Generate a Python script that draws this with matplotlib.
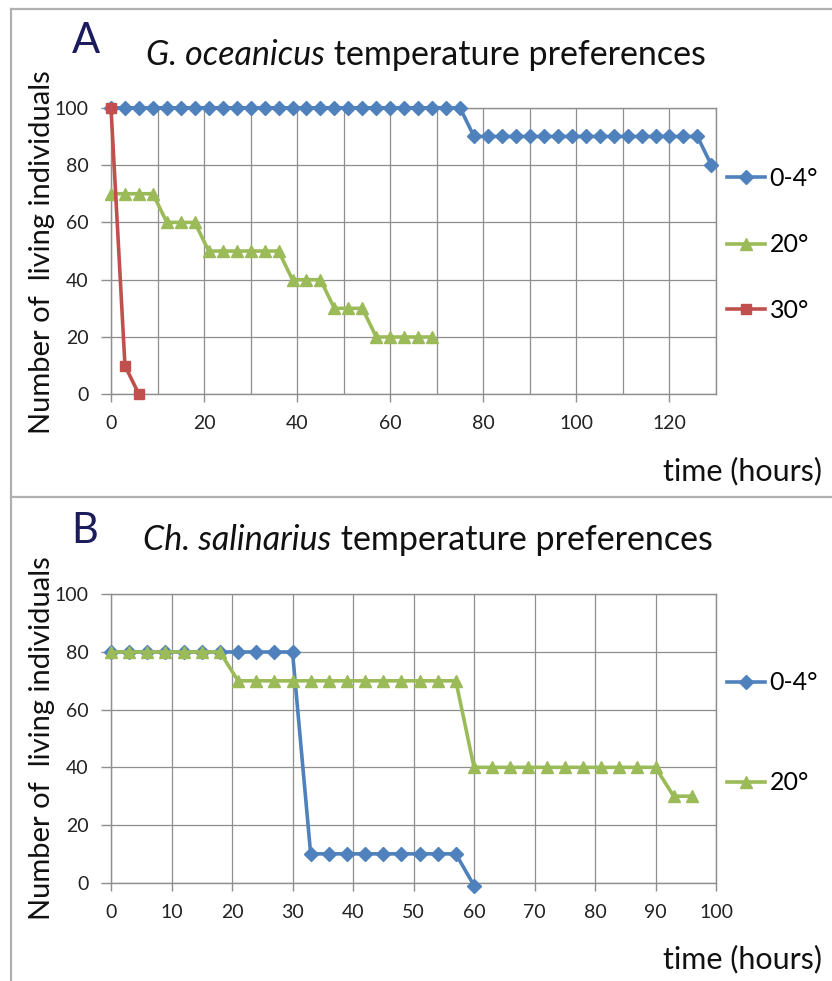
import matplotlib
matplotlib.use('Agg')
import matplotlib.pyplot as plt
from matplotlib.lines import Line2D

plt.rcParams['font.family'] = ['Lato', 'DejaVu Sans']

# ---------------- data ----------------
# Panel A : G. oceanicus
a_cold_t = [0, 3, 6, 9, 12, 15, 18, 21, 24, 27, 30, 33, 36, 39, 42, 45, 48, 51, 54, 57,
            60, 63, 66, 69, 72, 75, 78, 81, 84, 87, 90, 93, 96, 99, 102, 105, 108, 111,
            114, 117, 120, 123, 126, 129]
a_cold_v = [100, 100, 100, 100, 100, 100, 100, 100, 100, 100, 100, 100, 100, 100, 100,
            100, 100, 100, 100, 100, 100, 100, 100, 100, 100, 100, 90, 90, 90, 90, 90,
            90, 90, 90, 90, 90, 90, 90, 90, 90, 90, 90, 90, 80]
a_20_t = [0, 3, 6, 9, 12, 15, 18, 21, 24, 27, 30, 33, 36, 39, 42, 45, 48, 51, 54, 57,
          60, 63, 66, 69]
a_20_v = [70, 70, 70, 70, 60, 60, 60, 50, 50, 50, 50, 50, 50, 40, 40, 40, 30, 30, 30,
          20, 20, 20, 20, 20]
a_30_t = [0, 3, 6]
a_30_v = [100, 10, 0]

# Panel B : Ch. salinarius
b_cold_t = [0, 3, 6, 9, 12, 15, 18, 21, 24, 27, 30, 33, 36, 39, 42, 45, 48, 51, 54, 57, 60]
b_cold_v = [80, 80, 80, 80, 80, 80, 80, 80, 80, 80, 80, 10, 10, 10, 10, 10, 10, 10, 10,
            10, -1]
b_20_t = [0, 3, 6, 9, 12, 15, 18, 21, 24, 27, 30, 33, 36, 39, 42, 45, 48, 51, 54, 57,
          60, 63, 66, 69, 72, 75, 78, 81, 84, 87, 90, 93, 96]
b_20_v = [80, 80, 80, 80, 80, 80, 80, 70, 70, 70, 70, 70, 70, 70, 70, 70, 70, 70, 70, 70,
          40, 40, 40, 40, 40, 40, 40, 40, 40, 40, 40, 30, 30]

labels_a = ['0-4°', '20°', '30°']
labels_b = ['0-4°', '20°']
yticks = [0, 20, 40, 60, 80, 100]
xticks_a = [0, 20, 40, 60, 80, 100, 120]
xticks_b = [0, 10, 20, 30, 40, 50, 60, 70, 80, 90, 100]

BLUE = '#4F81BD'
GREEN = '#9BBB59'
RED = '#C0504D'
GRID = '#8E8E8E'
NAVY = '#1C1C5C'

W, H = 832, 981
fig = plt.figure(figsize=(W / 100, H / 100), dpi=100)


def fx(px):
    return px / W


def fy(py):
    return 1 - py / H


# panel frame lines
for xs, ys in [([11, 832], [9, 9]), ([11, 11], [9, 495]), ([11, 832], [497, 497]),
               ([11, 11], [497, 981])]:
    fig.add_artist(Line2D([fx(x) for x in xs], [fy(y) for y in ys],
                          transform=fig.transFigure, color='#B0B0B0', lw=1.6))


def style_axes(ax, xmax, xt, minor):
    ax.set_xlim(0, xmax)
    ax.set_ylim(0, 100)
    ax.set_xticks(xt)
    ax.set_xticks(minor, minor=True)
    ax.set_yticks(yticks)
    ax.tick_params(axis='x', which='major', direction='out', length=6, width=1,
                   color=GRID, pad=9, labelsize=14, labelcolor='#222222')
    ax.tick_params(axis='x', which='minor', length=0)
    ax.tick_params(axis='y', direction='out', length=7, width=1, color=GRID,
                   pad=9, labelsize=14, labelcolor='#222222')
    ax.grid(True, which='both', axis='x', color=GRID, lw=0.9)
    ax.grid(True, which='major', axis='y', color=GRID, lw=0.9)
    for s in ax.spines.values():
        s.set_color(GRID)
        s.set_linewidth(1.0)
    ax.set_axisbelow(True)


def series(ax, t, v, color, marker, ms, label):
    ln, = ax.plot(t, v, color=color, lw=2.6, marker=marker, ms=ms, mfc=color,
                  mec=color, clip_on=False, label=label, zorder=3)
    return ln


# ---------------- Panel A ----------------
axA = fig.add_axes([fx(111), fy(394.3), fx(716) - fx(111), (394.3 - 107.8) / H])
style_axes(axA, 130, xticks_a, [10, 30, 50, 70, 90, 110, 130])
hA = [series(axA, a_cold_t, a_cold_v, BLUE, 'D', 7, labels_a[0]),
      series(axA, a_20_t, a_20_v, GREEN, '^', 8.5, labels_a[1]),
      series(axA, a_30_t, a_30_v, RED, 's', 7.5, labels_a[2])]

# ---------------- Panel B ----------------
axB = fig.add_axes([fx(111), fy(882.7), fx(716) - fx(111), (882.7 - 594.3) / H])
style_axes(axB, 100, xticks_b, [])
hB = [series(axB, b_cold_t, b_cold_v, BLUE, 'D', 7, labels_b[0]),
      series(axB, b_20_t, b_20_v, GREEN, '^', 8.5, labels_b[1])]

# legends (one entry each, placed on the right)
for h, lab, ypx in [(hA[0], labels_a[0], 178), (hA[1], labels_a[1], 245),
                    (hA[2], labels_a[2], 310), (hB[0], labels_b[0], 683),
                    (hB[1], labels_b[1], 783)]:
    fig.legend(handles=[h], labels=[lab], loc='center left',
               bbox_to_anchor=(fx(727), fy(ypx)), bbox_transform=fig.transFigure,
               frameon=False, fontsize=18, handlelength=1.5, handletextpad=0.2,
               borderpad=0, borderaxespad=0, markerscale=1.0)

# panel letters
fig.text(fx(72), fy(53), 'A', fontsize=30, color=NAVY, va='baseline', ha='left')
fig.text(fx(71), fy(543), 'B', fontsize=30, color=NAVY, va='baseline', ha='left')

# titles with italic species names
fig.canvas.draw()
renderer = fig.canvas.get_renderer()


def compound_title(italic, rest, xc, ybase):
    t1 = fig.text(0, fy(ybase), italic, fontsize=24.5, style='italic', va='baseline',
                  ha='left', color='#111111')
    t2 = fig.text(0, fy(ybase), rest, fontsize=24.5, va='baseline', ha='left',
                  color='#111111')
    w1 = t1.get_window_extent(renderer).width
    w2 = t2.get_window_extent(renderer).width
    x0 = xc - (w1 + w2) / 2
    t1.set_x(fx(x0))
    t2.set_x(fx(x0 + w1))


compound_title('G. oceanicus', ' temperature preferences', 426, 65)
compound_title('Ch. salinarius', ' temperature preferences', 428, 550)

# axis labels
for yc in (252, 738):
    fig.text(fx(42), fy(yc), 'Number of  living individuals', rotation=90,
             fontsize=21, ha='center', va='center', color='#111111')
for yb in (480, 968):
    fig.text(fx(822), fy(yb), 'time (hours)', fontsize=22, ha='right',
             va='baseline', color='#111111')

fig.savefig('out.png', dpi=100)
